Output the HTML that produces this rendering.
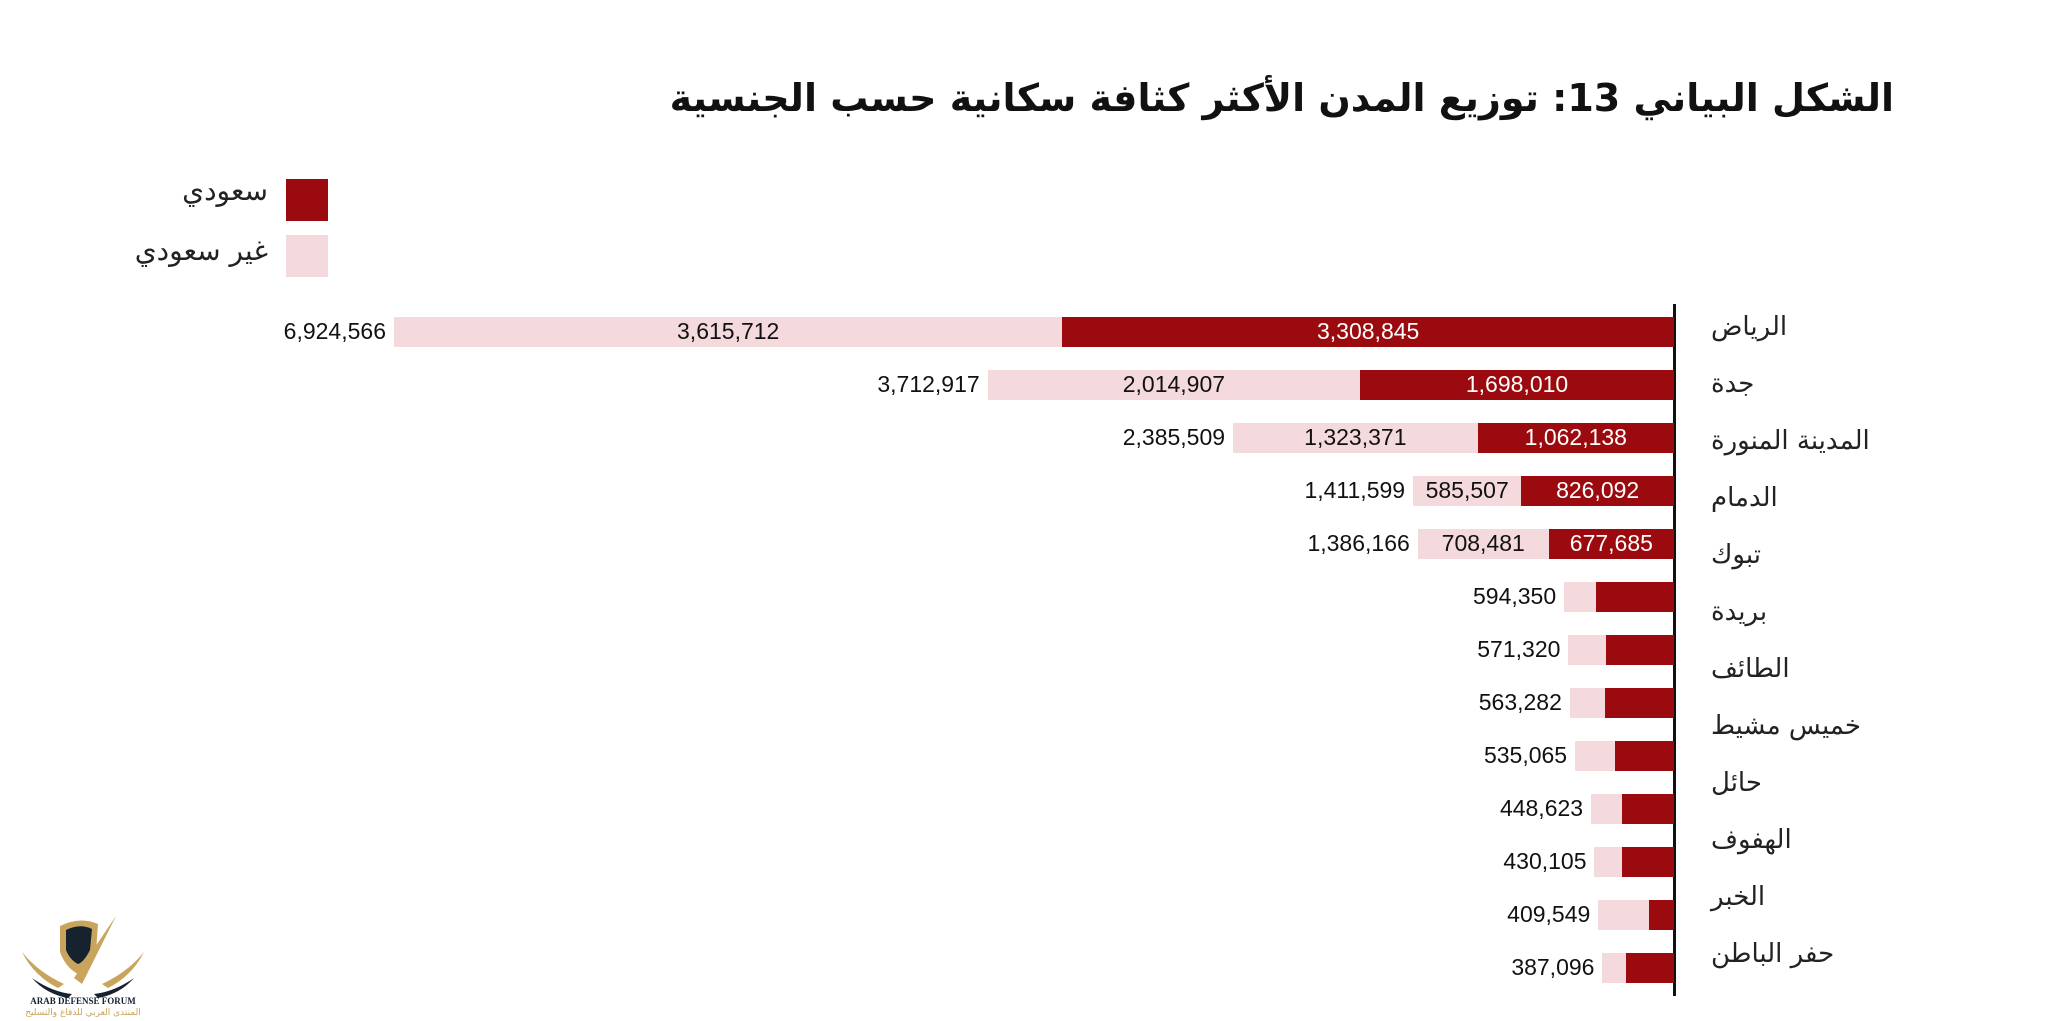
<!DOCTYPE html>
<html><head><meta charset="utf-8"><style>
html,body{margin:0;padding:0;background:#fff;}
#c{position:relative;width:2048px;height:1021px;overflow:hidden;font-family:"Liberation Sans",sans-serif;}
.t{position:absolute;white-space:nowrap;}
.ar{font-family:"DejaVu Sans",sans-serif;}
</style></head><body><div id="c">
<div class="t ar" style="right:154px;top:76px;font-size:38px;font-weight:bold;color:#111;direction:rtl;">الشكل البياني 13: توزيع المدن الأكثر كثافة سكانية حسب الجنسية</div>
<div style="position:absolute;left:286px;top:179px;width:42px;height:42px;background:#9b0a0e"></div>
<div style="position:absolute;left:286px;top:235px;width:42px;height:42px;background:#f4dadc"></div>
<div class="t ar" style="right:1780px;top:174px;font-size:28px;color:#222;direction:rtl;">سعودي</div>
<div class="t ar" style="right:1780px;top:234px;font-size:28px;color:#222;direction:rtl;">غير سعودي</div>
<div style="position:absolute;left:1673px;top:304px;width:3px;height:692px;background:#111"></div>
<svg style="position:absolute;left:18px;top:912px" width="130" height="105" viewBox="0 0 130 105">
<path d="M42 14 Q62 4 80 12 L78 40 Q70 58 60 62 Q48 56 42 40Z" fill="#c9a45c"/>
<path d="M48 18 Q62 11 74 17 L72 38 Q66 50 60 52 Q52 48 48 38Z" fill="#16222e"/>
<path d="M56 66 L98 4 L64 72Z" fill="#c9a45c"/>
<path d="M4 40 Q20 60 46 72 L40 76 Q16 64 4 40Z" fill="#c9a45c"/>
<path d="M126 40 Q110 60 84 72 L90 76 Q114 64 126 40Z" fill="#c9a45c"/>
<path d="M14 66 Q34 80 54 82 L50 86 Q28 82 14 66Z" fill="#16222e"/>
<path d="M116 66 Q96 80 76 82 L80 86 Q102 82 116 66Z" fill="#16222e"/>
<text x="65" y="92" font-size="9" font-family="Liberation Serif" font-weight="bold" fill="#16222e" text-anchor="middle">ARAB DEFENSE FORUM</text>
<text x="65" y="103" font-size="9" font-family="DejaVu Sans" fill="#c9a45c" text-anchor="middle">المنتدى العربي للدفاع والتسليح</text>
</svg>
<div id="bars"></div>
</div>
<script>
var A=1674, k=1280/6924566;
var rows=[
[6924566,3308845,"3,615,712","3,308,845","6,924,566"],
[3712917,1698010,"2,014,907","1,698,010","3,712,917"],
[2385509,1062138,"1,323,371","1,062,138","2,385,509"],
[1411599,826092,"585,507","826,092","1,411,599"],
[1386166,677685,"708,481","677,685","1,386,166"],
[594350,78,"","","594,350"],
[571320,68,"","","571,320"],
[563282,69,"","","563,282"],
[535065,59,"","","535,065"],
[448623,52,"","","448,623"],
[430105,52,"","","430,105"],
[409549,25,"","","409,549"],
[387096,48,"","","387,096"]];
var h="";
rows.forEach(function(r,i){
 var cy=332+i*53, tw=r[0]*k, rw=r[1]>1000?r[1]*k:r[1];
 var L=A-tw, R=A-rw;
 h+='<div style="position:absolute;left:'+L+'px;top:'+(cy-15)+'px;width:'+(tw-rw)+'px;height:30px;background:#f4dadc"></div>';
 h+='<div style="position:absolute;left:'+R+'px;top:'+(cy-15)+'px;width:'+rw+'px;height:30px;background:#9b0a0e"></div>';
 h+='<div class="t" style="right:'+(2048-L+8)+'px;top:'+(cy-14)+'px;font-size:23px;color:#111">'+r[4]+'</div>';
 if(r[2]){
  h+='<div class="t" style="left:'+L+'px;width:'+(tw-rw)+'px;text-align:center;top:'+(cy-14)+'px;font-size:23px;color:#111">'+r[2]+'</div>';
  h+='<div class="t" style="left:'+R+'px;width:'+rw+'px;text-align:center;top:'+(cy-14)+'px;font-size:23px;color:#fff">'+r[3]+'</div>';
 }
});
var cities=["الرياض","جدة","المدينة المنورة","الدمام","تبوك","بريدة","الطائف","خميس مشيط","حائل","الهفوف","الخبر","حفر الباطن"];
cities.forEach(function(c,i){
 var cy=329+i*57;
 h+='<div class="t ar" style="left:1711px;top:'+(cy-17)+'px;font-size:26px;color:#222;direction:rtl">'+c+'</div>';
});
document.getElementById("bars").innerHTML=h;
</script>
</body></html>
